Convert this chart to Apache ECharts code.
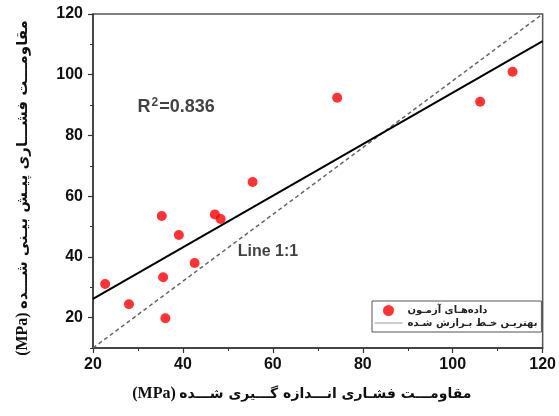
<!DOCTYPE html>
<html>
<head>
<meta charset="utf-8">
<script src="https://cdn.jsdelivr.net/npm/echarts@6/dist/echarts.min.js"></script>
<style>html,body{margin:0;padding:0;background:#fff}#c{width:559px;height:416px}</style>
</head>
<body>
<div id="c"></div>
<script>
// measured vs predicted compressive strength (MPa)
var measured  = [22.7, 28.0, 35.3, 35.6, 36.1, 39.1, 42.6, 47.1, 48.4, 55.5, 74.3, 106.1, 113.3];
var predicted = [31.1, 24.4, 53.5, 33.3, 19.8, 47.2, 38.0, 54.0, 52.5, 64.7, 92.4, 91.1, 101.0];
var fitX = [20, 120];
var fitY = [26.2, 111.1];
var refX = [20, 120];
var refY = [10, 120];
var xTicks = [20, 40, 60, 80, 100, 120];
var yTicks = [20, 40, 60, 80, 100, 120];
var r2Text = 'R2=0.836';
var r2Pos = [38.5, 89.4];
var lineText = 'Line 1:1';
var linePos = [58.9, 41.8];
var legendNames = ['داده‌هـای آزمـون', 'بهتریـن خـط بـرازش شـده'];
var xTitle = 'مقاومـــت فشـاری انـــدازه گـــیری شـــده';
var yTitle = 'مقاومـــت فشـــاری پیـش بیـنی شـــده';
var unit = '(MPa)';

var pts = measured.map(function (x, i) { return [x, predicted[i]]; });
var fit = fitX.map(function (x, i) { return [x, fitY[i]]; });
var ref = refX.map(function (x, i) { return [x, refY[i]]; });

var fa = "'Liberation Sans', Arial, 'DejaVu Sans', sans-serif";
var chart = echarts.init(document.getElementById('c'), null, {renderer: 'canvas'});
chart.setOption({
  animation: false,
  backgroundColor: '#fff',
  grid: {left: 93, right: 13, top: 14, bottom: 68, show: true, borderColor: '#555', borderWidth: 1.5, backgroundColor: 'transparent'},
  xAxis: {
    type: 'value', min: xTicks[0], max: xTicks[xTicks.length - 1], interval: xTicks[1] - xTicks[0],
    axisLine: {show: true, lineStyle: {color: '#333', width: 1.5}},
    axisTick: {show: true, length: 5, lineStyle: {color: '#333', width: 1.2}},
    minorTick: {show: true, splitNumber: 2, length: 3, lineStyle: {color: '#333', width: 1}},
    splitLine: {show: false},
    axisLabel: {color: '#111', fontFamily: fa, fontWeight: 'bold', fontSize: 16, margin: 9},
    name: '{b|' + unit + '} {a|' + xTitle + '}',
    nameLocation: 'middle', nameGap: 38,
    nameTextStyle: {padding: [0, 32, 0, 0], rich: {
      a: {fontFamily: "'DejaVu Sans', sans-serif", fontWeight: 'bold', fontSize: 14, color: '#111'},
      b: {fontFamily: "'Liberation Serif', serif", fontWeight: 'bold', fontSize: 16, color: '#111'}
    }}
  },
  yAxis: [{
    type: 'value', min: 10, max: yTicks[yTicks.length - 1], splitNumber: 5,
    axisLine: {show: true, lineStyle: {color: '#333', width: 1.5}},
    axisTick: {show: true, length: 5, lineStyle: {color: '#333', width: 1.2}},
    splitLine: {show: false},
    axisLabel: {color: '#111', fontFamily: fa, fontWeight: 'bold', fontSize: 16, margin: 10, showMinLabel: false,
      formatter: function (v) { return yTicks.indexOf(v) >= 0 ? String(v) : ''; }},
    name: '{b|' + unit + '} {a|' + yTitle + '}',
    nameLocation: 'middle', nameGap: 62, nameRotate: 90,
    nameTextStyle: {padding: [0, 14, 0, 0], rich: {
      a: {fontFamily: "'DejaVu Sans', sans-serif", fontWeight: 'bold', fontSize: 15, color: '#111'},
      b: {fontFamily: "'Liberation Serif', serif", fontWeight: 'bold', fontSize: 16, color: '#111'}
    }}
  }, {
    type: 'value', min: 10, max: yTicks[yTicks.length - 1], interval: 10, position: 'left', offset: 0,
    axisLine: {show: false}, axisLabel: {show: false}, splitLine: {show: false},
    axisTick: {show: true, length: 3, lineStyle: {color: '#333', width: 1}}
  }],
  legend: {
    orient: 'vertical', left: 372, top: 301, itemWidth: 28, itemHeight: 11, itemGap: 2,
    padding: [4, 4, 4, 2], borderColor: '#555', borderWidth: 1, backgroundColor: '#fff',
    textStyle: {fontFamily: "'DejaVu Sans', sans-serif", fontWeight: 'bold', fontSize: 10, color: '#222', width: 120, align: 'center'},
    data: [
      {name: legendNames[0], icon: 'circle'},
      {name: legendNames[1], lineStyle: {color: '#999', width: 1}, itemStyle: {opacity: 0}}
    ]
  },
  series: [
    {name: legendNames[0], type: 'scatter', data: pts, symbol: 'circle', symbolSize: 10,
      itemStyle: {color: '#ff0000'}, z: 5},
    {name: legendNames[1], type: 'line', data: fit, showSymbol: false, symbol: 'none',
      lineStyle: {color: '#000', width: 2}, itemStyle: {color: '#000'}, z: 3},
    {name: 'ref', type: 'line', data: ref, showSymbol: false, symbol: 'none',
      lineStyle: {color: '#666', width: 1.5, type: [4, 3]}, z: 2},
    {name: 'notes', type: 'scatter', silent: true, symbolSize: 1, itemStyle: {color: 'rgba(0,0,0,0)'},
      data: [
        {value: r2Pos, label: {show: true, position: 'inside', formatter: '{a|R}{s|2}{a|=0.836}',
          rich: {a: {fontFamily: fa, fontWeight: 'bold', fontSize: 18, color: '#111'},
                 s: {fontFamily: fa, fontWeight: 'bold', fontSize: 12, color: '#111', padding: [0, 1, 9, 1]}}}},
        {value: linePos, label: {show: true, position: 'inside', formatter: lineText,
          fontFamily: fa, fontWeight: 'bold', fontSize: 16, color: '#111'}}
      ]}
  ]
});
</script>
</body>
</html>
